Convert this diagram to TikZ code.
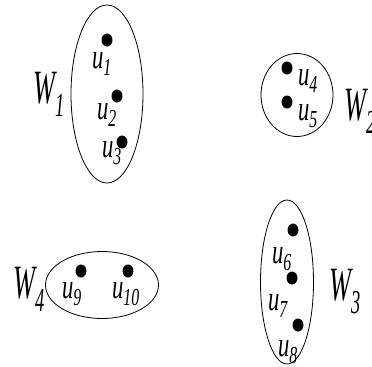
\documentclass[tikz,border=0pt]{standalone}
\usepackage{fontspec}
\setmainfont{Liberation Serif}
\usetikzlibrary{shapes.geometric}

\begin{document}
\begin{tikzpicture}[x=1bp, y=-1bp,
    part/.style = {draw, ellipse, line width=0.8bp, inner sep=0pt},
    pt/.style = {fill, ellipse, minimum width=11bp, minimum height=13bp, inner sep=0pt},
    vlbl/.style = {anchor=base west, inner sep=0pt, xscale=0.65, font=\fontsize{35}{35}\selectfont\itshape},
    wlbl/.style = {anchor=base west, inner sep=0pt, xscale=0.55, font=\fontsize{48}{48}\selectfont\itshape}]
    \useasboundingbox (0,0) rectangle (372,367);

    % the four parts
    \node[part, minimum width=72bp, minimum height=178bp] (W1) at (107,94) {};
    \node[part, minimum width=72bp, minimum height=83bp] (W2) at (297,95) {};
    \node[part, minimum width=53bp, minimum height=164bp] (W3) at (287,282) {};
    \node[part, minimum width=113bp, minimum height=67bp] (W4) at (102,285) {};

    % vertices
    \node[pt] (1) at (107,40) {};
    \node[pt] (2) at (117,96) {};
    \node[pt] (3) at (122,142) {};
    \node[pt] (4) at (287,68) {};
    \node[pt] (5) at (287,102) {};
    \node[pt] (6) at (293,230) {};
    \node[pt] (7) at (292,278) {};
    \node[pt] (8) at (298,325) {};
    \node[pt] (9) at (81,271) {};
    \node[pt] (10) at (128,271) {};

    \node[vlbl] (l1) at (92,68) {u\textsubscript{1}};
    \node[vlbl] (l2) at (97,119) {u\textsubscript{2}};
    \node[vlbl] (l3) at (102,157) {u\textsubscript{3}};
    \node[vlbl] (l4) at (298,85) {u\textsubscript{4}};
    \node[vlbl] (l5) at (298,120) {u\textsubscript{5}};
    \node[vlbl] (l6) at (272,263) {u\textsubscript{6}};
    \node[vlbl] (l7) at (268,310) {u\textsubscript{7}};
    \node[vlbl] (l8) at (278,356) {u\textsubscript{8}};
    \node[vlbl] (l9) at (62,298) {u\textsubscript{9}};
    \node[vlbl] (l10) at (112,298) {u\textsubscript{10}};

    \node[wlbl] (w1) at (33,103) {W\textsubscript{1}};
    \node[wlbl] (w2) at (344,120) {W\textsubscript{2}};
    \node[wlbl] (w3) at (329,300) {W\textsubscript{3}};
    \node[wlbl] (w4) at (13,298) {W\textsubscript{4}};
\end{tikzpicture}
\end{document}
